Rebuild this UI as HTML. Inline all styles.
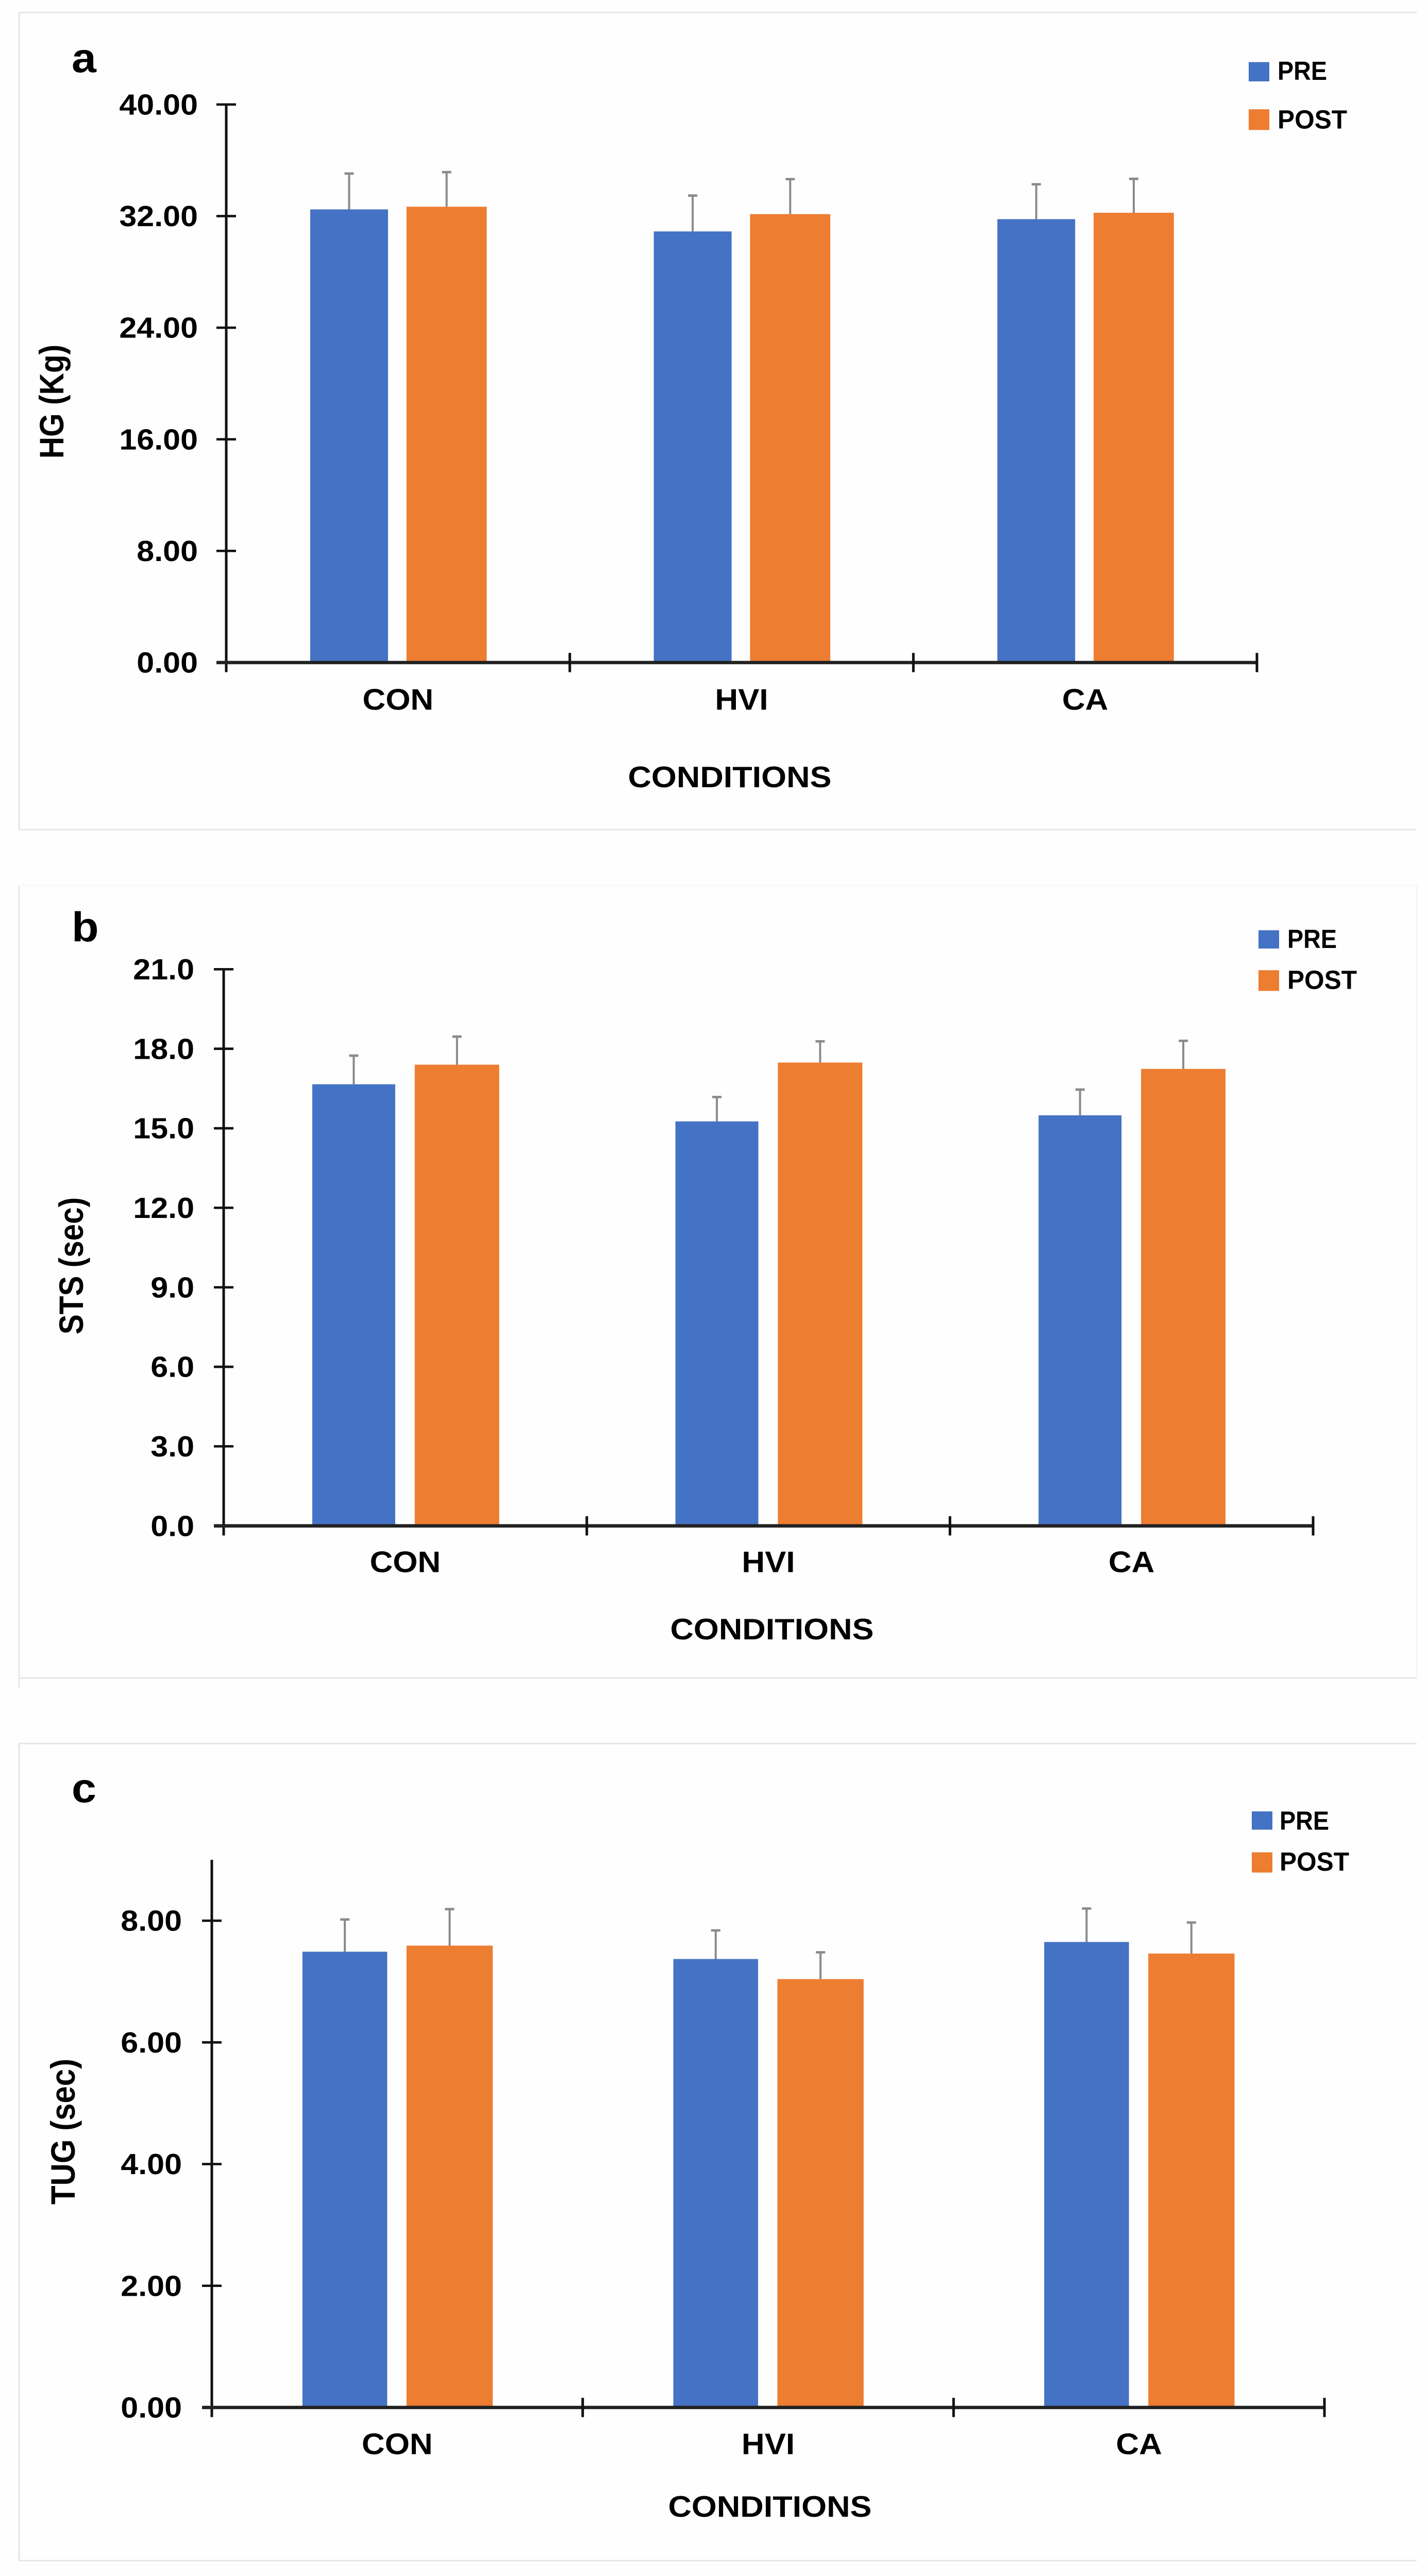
<!DOCTYPE html>
<html lang="en">
<head>
<meta charset="utf-8">
<title>HG, STS and TUG by condition</title>
<style>
html,body{margin:0;padding:0;background:#fefefe;width:100%;height:100%;overflow:hidden;}
svg{display:block;position:absolute;left:0;top:0;width:100vw;height:100vh;}
text{font-family:"Liberation Sans",sans-serif;font-weight:700;fill:#000;}
</style>
</head>
<body>
<svg id="figure" xmlns="http://www.w3.org/2000/svg" viewBox="0 0 2769 5350" preserveAspectRatio="none">
<rect x="0" y="0" width="2769" height="5350" fill="#fefefe"/>
</svg>
<script>
const categories = ['CON', 'HVI', 'CA'];
const seriesNames = ['PRE', 'POST'];

const hgTicks = ['0.00', '8.00', '16.00', '24.00', '32.00', '40.00'];
const hgPre = [32.48, 30.9, 31.78];
const hgPost = [32.67, 32.14, 32.24];
const hgPreErr = [2.57, 2.57, 2.5];
const hgPostErr = [2.48, 2.51, 2.43];

const stsTicks = ['0.0', '3.0', '6.0', '9.0', '12.0', '15.0', '18.0', '21.0'];
const stsPre = [16.66, 15.26, 15.49];
const stsPost = [17.4, 17.48, 17.24];
const stsPreErr = [1.08, 0.92, 0.97];
const stsPostErr = [1.06, 0.8, 1.06];

const tugTicks = ['0.00', '2.00', '4.00', '6.00', '8.00'];
const tugPre = [7.49, 7.37, 7.65];
const tugPost = [7.59, 7.04, 7.46];
const tugPreErr = [0.53, 0.47, 0.55];
const tugPostErr = [0.6, 0.44, 0.51];

const SVGNS = 'http://www.w3.org/2000/svg';
const figure = document.getElementById('figure');
const BLUE = '#4472c4';
const ORANGE = '#ed7d31';

function mk(tag, attrs, parent) {
  const node = document.createElementNS(SVGNS, tag);
  for (const k in attrs) node.setAttribute(k, attrs[k]);
  parent.appendChild(node);
  return node;
}

function drawChart(cfg) {
  const g = mk('g', {}, figure);
  
  

  const yScale = v => cfg.y0 - (v / cfg.yMax) * (cfg.y0 - cfg.yTop);
  const bandW = (cfg.xEnd - cfg.x0) / categories.length;
  const bandX = i => cfg.x0 + i * bandW;

  // chart frame
  cfg.frame.forEach(function (seg) {
    const line = mk('line', {x1: seg[0], y1: seg[1], x2: seg[2], y2: seg[3], stroke: seg[4], 'stroke-width': 3}, g);
    
    
  });

  // panel letter
  const letter = mk('text', {x: 139, y: cfg.letterY, 'font-size': 86}, g);
  letter.textContent = cfg.letter;
  
  

  // bars and error bars
  categories.forEach(function (cat, i) {
    const seriesVals = [cfg.pre[i], cfg.post[i]];
    const seriesErr = [cfg.preErr[i], cfg.postErr[i]];
    seriesVals.forEach(function (val, s) {
      const x = bandX(i) + bandW * (s === 0 ? cfg.preStart : cfg.postStart);
      const w = bandW * (s === 0 ? cfg.preFrac : cfg.postFrac);
      const top = yScale(val);
      const bar = mk('rect', {x: x, y: top, width: w, height: cfg.y0 - top, fill: s === 0 ? BLUE : ORANGE}, g);
      
      

      const cx = x + w / 2;
      const errTop = yScale(val + seriesErr[s]);
      const stem = mk('line', {x1: cx, y1: top, x2: cx, y2: errTop, stroke: '#8a8a8a', 'stroke-width': 4}, g);
      
      
      const cap = mk('line', {x1: cx - 9, y1: errTop, x2: cx + 9, y2: errTop, stroke: '#8a8a8a', 'stroke-width': 5}, g);
      
      
    });
  });

  // y axis
  const yAxisTop = cfg.axisTopValue === undefined ? cfg.yTop : yScale(cfg.axisTopValue);
  const yAxis = mk('line', {x1: cfg.x0, y1: yAxisTop, x2: cfg.x0, y2: cfg.y0 + 20, stroke: '#111', 'stroke-width': 5}, g);
  
  

  cfg.ticks.forEach(function (label) {
    const ty = yScale(parseFloat(label));
    const tick = mk('line', {x1: cfg.x0 - 19, y1: ty, x2: cfg.x0 + 19, y2: ty, stroke: '#111', 'stroke-width': 5}, g);
    
    
    const t = mk('text', {x: cfg.x0 - cfg.labelGap, y: ty + 21, 'font-size': 61, 'text-anchor': 'end'}, g);
    t.textContent = label;
    
    
  });

  // x axis
  const xAxis = mk('line', {x1: cfg.x0 - 19, y1: cfg.y0, x2: cfg.xEnd, y2: cfg.y0, stroke: '#222', 'stroke-width': 7}, g);
  
  

  for (let i = 1; i <= categories.length; i++) {
    const tx = bandX(i);
    const tick = mk('line', {x1: tx, y1: cfg.y0 - 20, x2: tx, y2: cfg.y0 + 20, stroke: '#111', 'stroke-width': 5}, g);
    
    
  }

  categories.forEach(function (cat, i) {
    const t = mk('text', {x: bandX(i) + bandW / 2, y: cfg.y0 + cfg.catOffset, 'font-size': 62, 'text-anchor': 'middle'}, g);
    t.textContent = cat;
    
    
  });

  const xTitle = mk('text', {x: cfg.xTitleX, y: cfg.xTitleY, 'font-size': 62, 'text-anchor': 'middle', textLength: 395, lengthAdjust: 'spacingAndGlyphs'}, g);
  xTitle.textContent = 'CONDITIONS';
  
  

  const yTitle = mk('text', {x: 0, y: 0, 'font-size': 66, 'text-anchor': 'middle', textLength: cfg.yTitleLen, lengthAdjust: 'spacingAndGlyphs', transform: 'translate(' + cfg.yTitleX + ' ' + cfg.yTitleY + ') rotate(-90)'}, g);
  yTitle.textContent = cfg.yTitle;
  
  

  // legend
  seriesNames.forEach(function (name, s) {
    const sw = mk('rect', {x: cfg.legendX, y: cfg.legendTop[s], width: 40, height: cfg.legendH[s], fill: s === 0 ? BLUE : ORANGE}, g);
    
    
    const t = mk('text', {x: cfg.legendTextX, y: cfg.legendBase[s], 'font-size': 55, textLength: s === 0 ? 96 : 135, lengthAdjust: 'spacingAndGlyphs'}, g);
    t.textContent = name;
    
    
  });
}

drawChart({
  id: 'hg', letter: 'a', letterY: 150,
  frame: [[37, 26, 2749, 26, '#e4e4e4'], [37, 26, 37, 1723, '#e4e4e4'], [37, 1723, 2749, 1723, '#e4e4e4']],
  x0: 439, xEnd: 2439, y0: 1376, yTop: 217, yMax: 40, labelGap: 55,
  preStart: 0.2444, postStart: 0.5247, preFrac: 0.2265, postFrac: 0.2335,
  ticks: hgTicks, pre: hgPre, post: hgPost, preErr: hgPreErr, postErr: hgPostErr,
  catOffset: 98, xTitleX: 1416, xTitleY: 1635,
  yTitle: 'HG (Kg)', yTitleX: 123, yTitleY: 834, yTitleLen: 237,
  legendX: 2423, legendTextX: 2479, legendTop: [129, 227], legendH: [40, 43], legendBase: [166, 267]
});

drawChart({
  id: 'sts', letter: 'b', letterY: 1955,
  frame: [[37, 1839, 2749, 1839, '#f8f8f8'], [37, 1839, 37, 3507, '#e8e8e8'], [37, 3485, 2749, 3485, '#e4e4e4'], [2749, 1839, 2749, 3485, '#f6f6f6']],
  x0: 434, xEnd: 2548, y0: 3169, yTop: 2013, yMax: 21, labelGap: 57,
  preStart: 0.244, postStart: 0.5262, preFrac: 0.2284, postFrac: 0.2326,
  ticks: stsTicks, pre: stsPre, post: stsPost, preErr: stsPreErr, postErr: stsPostErr,
  catOffset: 96, xTitleX: 1498, xTitleY: 3405,
  yTitle: 'STS (sec)', yTitleX: 161, yTitleY: 2629, yTitleLen: 285,
  legendX: 2442, legendTextX: 2498, legendTop: [1932, 2015], legendH: [38, 43], legendBase: [1969, 2054]
});

drawChart({
  id: 'tug', letter: 'c', letterY: 3743,
  frame: [[37, 3621, 2749, 3621, '#e4e4e4'], [37, 3621, 37, 5318, '#e4e4e4'], [37, 5318, 2749, 5318, '#e4e4e4']],
  x0: 411, xEnd: 2570, y0: 5000, yTop: 3989, yMax: 8, axisTopValue: 9, labelGap: 58,
  preStart: 0.2444, postStart: 0.525, preFrac: 0.2285, postFrac: 0.2325,
  ticks: tugTicks, pre: tugPre, post: tugPost, preErr: tugPreErr, postErr: tugPostErr,
  catOffset: 97, xTitleX: 1494, xTitleY: 5227,
  yTitle: 'TUG (sec)', yTitleX: 145, yTitleY: 4427, yTitleLen: 303,
  legendX: 2429, legendTextX: 2483, legendTop: [3762, 3847], legendH: [38, 42], legendBase: [3800, 3885]
});
</script>
</body>
</html>
